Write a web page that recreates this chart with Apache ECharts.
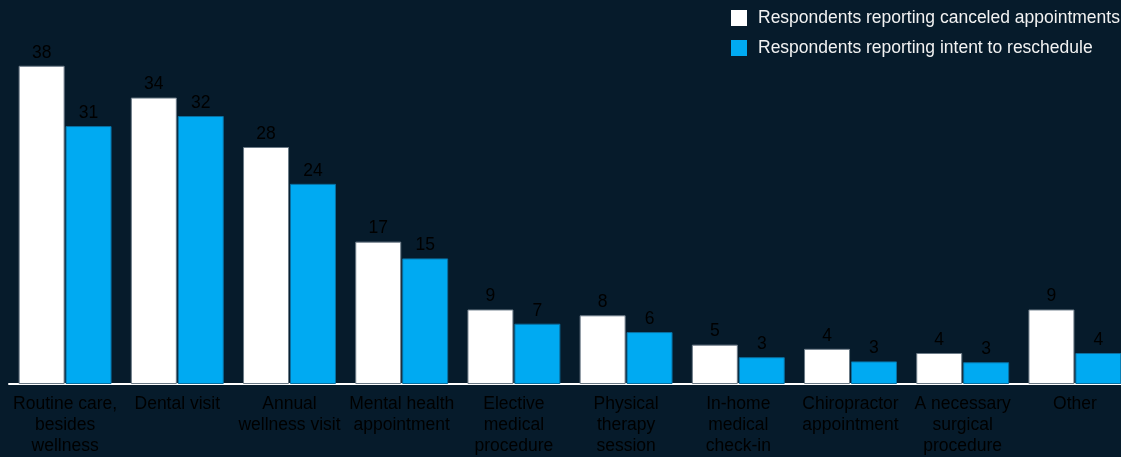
<!DOCTYPE html>
<html>
<head>
<meta charset="utf-8">
<script src="https://cdn.jsdelivr.net/npm/echarts@6/dist/echarts.min.js"></script>
<style>
html,body{margin:0;padding:0;background:#061b2b;overflow:hidden;}
#c{width:1131px;height:457px;}
</style>
</head>
<body>
<div id="c"></div>
<script>
const categories = [
  "Routine care,\nbesides\nwellness",
  "Dental visit",
  "Annual\nwellness visit",
  "Mental health\nappointment",
  "Elective\nmedical\nprocedure",
  "Physical\ntherapy\nsession",
  "In-home\nmedical\ncheck-in",
  "Chiropractor\nappointment",
  "A necessary\nsurgical\nprocedure",
  "Other"
];
const seriesNames = [
  "Respondents reporting canceled appointments",
  "Respondents reporting intent to reschedule"
];
// values; labels show rounded values
const canceled = [38.0, 34.2, 28.3, 17.0, 8.9, 8.2, 4.7, 4.2, 3.7, 8.9];
const reschedule = [30.8, 32.0, 23.9, 15.0, 7.2, 6.2, 3.2, 2.7, 2.6, 3.7];

const chart = echarts.init(document.getElementById('c'), null, {renderer: 'canvas'});
const font = 'Liberation Sans, Arial, sans-serif';
const fs = 17.5;
const labelCfg = {show: true, position: 'top', distance: 4, color: '#000000', fontSize: fs, fontFamily: font,
  formatter: p => String(Math.round(p.value))};
chart.setOption({
  backgroundColor: '#061b2b',
  animation: false,
  legend: {
    orient: 'vertical', left: 731, top: 9, padding: 0,
    itemWidth: 16, itemHeight: 16, itemGap: 12,
    icon: 'rect',
    itemStyle: {borderWidth: 0},
    textStyle: {color: '#f2f2f2', fontSize: fs, fontFamily: font, padding: [0, 0, 0, 6]},
    data: seriesNames
  },
  grid: {left: 9, right: 0, top: 49, bottom: 72, containLabel: false},
  xAxis: {
    type: 'category', data: categories, offset: 1,
    axisLine: {show: true, lineStyle: {color: '#ffffff', width: 2}},
    axisTick: {show: false},
    axisLabel: {color: '#000000', fontSize: fs, fontFamily: font, lineHeight: 21, margin: 9, interval: 0}
  },
  yAxis: {type: 'value', min: 0, max: 40, show: false, splitLine: {show: false}},
  series: [
    {name: seriesNames[0], type: 'bar', data: canceled, barWidth: 46, barGap: '2%',
     itemStyle: {color: '#ffffff', borderColor: '#6b7a86', borderWidth: 1}, label: labelCfg},
    {name: seriesNames[1], type: 'bar', data: reschedule, barWidth: 46,
     itemStyle: {color: '#00aaf2', borderColor: '#0a6fa0', borderWidth: 1}, label: labelCfg}
  ]
});
</script>
</body>
</html>
